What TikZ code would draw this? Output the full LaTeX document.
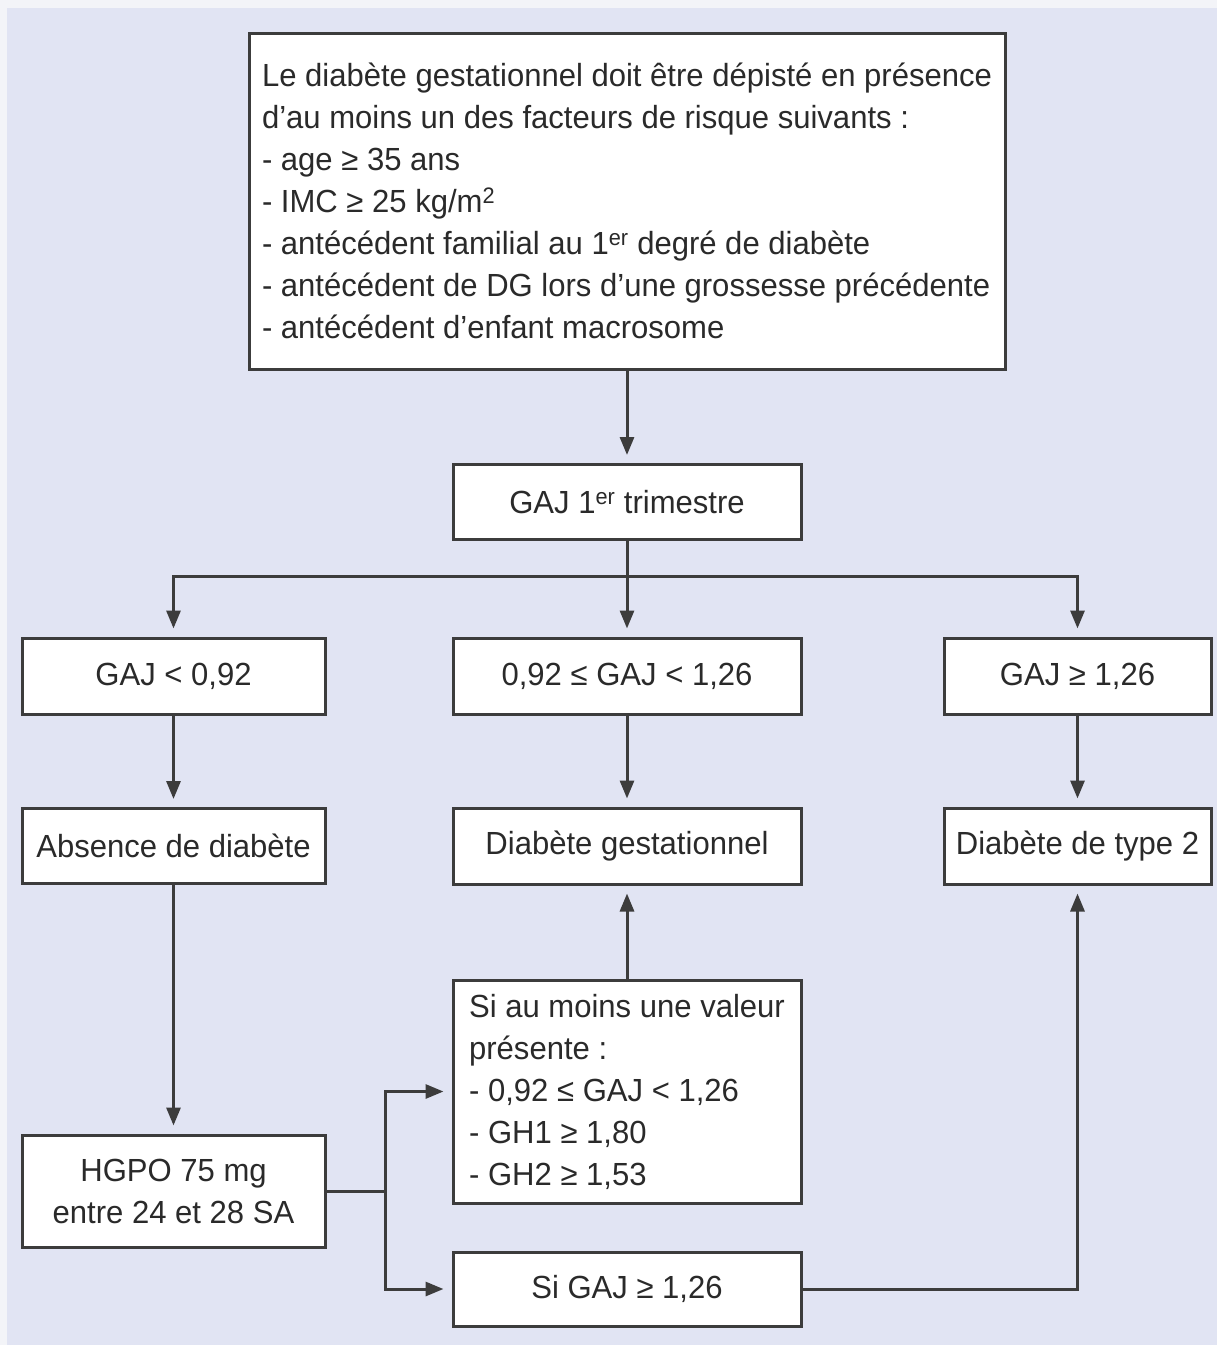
\documentclass[tikz,border=0pt]{standalone}
\usepackage{fontspec}
\setmainfont{Liberation Sans}[FakeStretch=0.97]
\usetikzlibrary{arrows.meta}
\definecolor{lavande}{HTML}{E1E4F3}
\definecolor{marge}{HTML}{F3F4F8}
\definecolor{trait}{HTML}{3C3C3C}
\definecolor{encre}{HTML}{2A2A2A}

\begin{document}
\begin{tikzpicture}[x=1pt,y=-1pt,
  box/.style={draw=trait, line width=3pt, fill=white, text=encre,
    font=\fontsize{32}{42}\selectfont, inner sep=0pt},
  ln/.style={draw=trait, line width=3pt},
  arr/.style={ln, -{Triangle[length=18pt,width=14pt]}, shorten >=8pt}]
\fill[marge] (0,0) rectangle (1217,1345);
\fill[lavande] (7,8) rectangle (1217,1345);
\useasboundingbox (0,0) rectangle (1217,1345);

\node[box, minimum width=756pt, minimum height=336pt, align=left] (risk) at (627,201)
  {Le diabète gestationnel doit être dépisté en présence\\
   d'au moins un des facteurs de risque suivants :\\
   - age ≥ 35 ans\\
   - IMC ≥ 25 kg/m\textsuperscript{2}\\
   - antécédent familial au 1\textsuperscript{er} degré de diabète\\
   - antécédent de DG lors d'une grossesse précédente\\
   - antécédent d'enfant macrosome};
\node[box, minimum width=348pt, minimum height=75pt] (gaj1) at (627,502) {GAJ 1\textsuperscript{er} trimestre};

\node[box, minimum width=303pt, minimum height=76pt] (low) at (173.5,676) {GAJ < 0,92};
\node[box, minimum width=348pt, minimum height=76pt] (mid) at (627,676) {0,92 ≤ GAJ < 1,26};
\node[box, minimum width=267pt, minimum height=76pt] (high) at (1077.5,676) {GAJ ≥ 1,26};

\node[box, minimum width=303pt, minimum height=75pt] (absent) at (173.5,846) {Absence de diabète};
\node[box, minimum width=348pt, minimum height=76pt] (dg) at (627,846) {Diabète gestationnel};
\node[box, minimum width=267pt, minimum height=76pt] (dt2) at (1077.5,846) {Diabète de type 2};

\node[box, minimum width=348pt, minimum height=223pt, align=left] (cond) at (627,1091.5)
  {Si au moins une valeur\\
   présente :\\
   - 0,92 ≤ GAJ < 1,26\\
   - GH1 ≥ 1,80\\
   - GH2 ≥ 1,53};
\node[box, minimum width=303pt, minimum height=112pt, align=center] (hgpo) at (173.5,1191) {HGPO 75 mg\\entre 24 et 28 SA};
\node[box, minimum width=348pt, minimum height=74pt] (sigaj) at (627,1289) {Si GAJ ≥ 1,26};

\coordinate (fork) at (627,576);
\coordinate (split) at (385,1191);

\draw[arr] (risk.south) -- (gaj1.north);
\draw[ln] (gaj1.south) -- (fork);
\draw[arr] (fork) -| (low.north);
\draw[arr] (fork) -- (mid.north);
\draw[arr] (fork) -| (high.north);

\draw[arr] (low.south) -- (absent.north);
\draw[arr] (mid.south) -- (dg.north);
\draw[arr] (high.south) -- (dt2.north);

\draw[arr] (absent.south) -- (hgpo.north);
\draw[ln] (hgpo.east) -- (split);
\draw[arr] (split) |- (cond.west);
\draw[arr] (split) |- (sigaj.west);
\draw[arr] (cond.north) -- (dg.south);
\draw[arr] (sigaj.east) -| (dt2.south);

\end{tikzpicture}
\end{document}
